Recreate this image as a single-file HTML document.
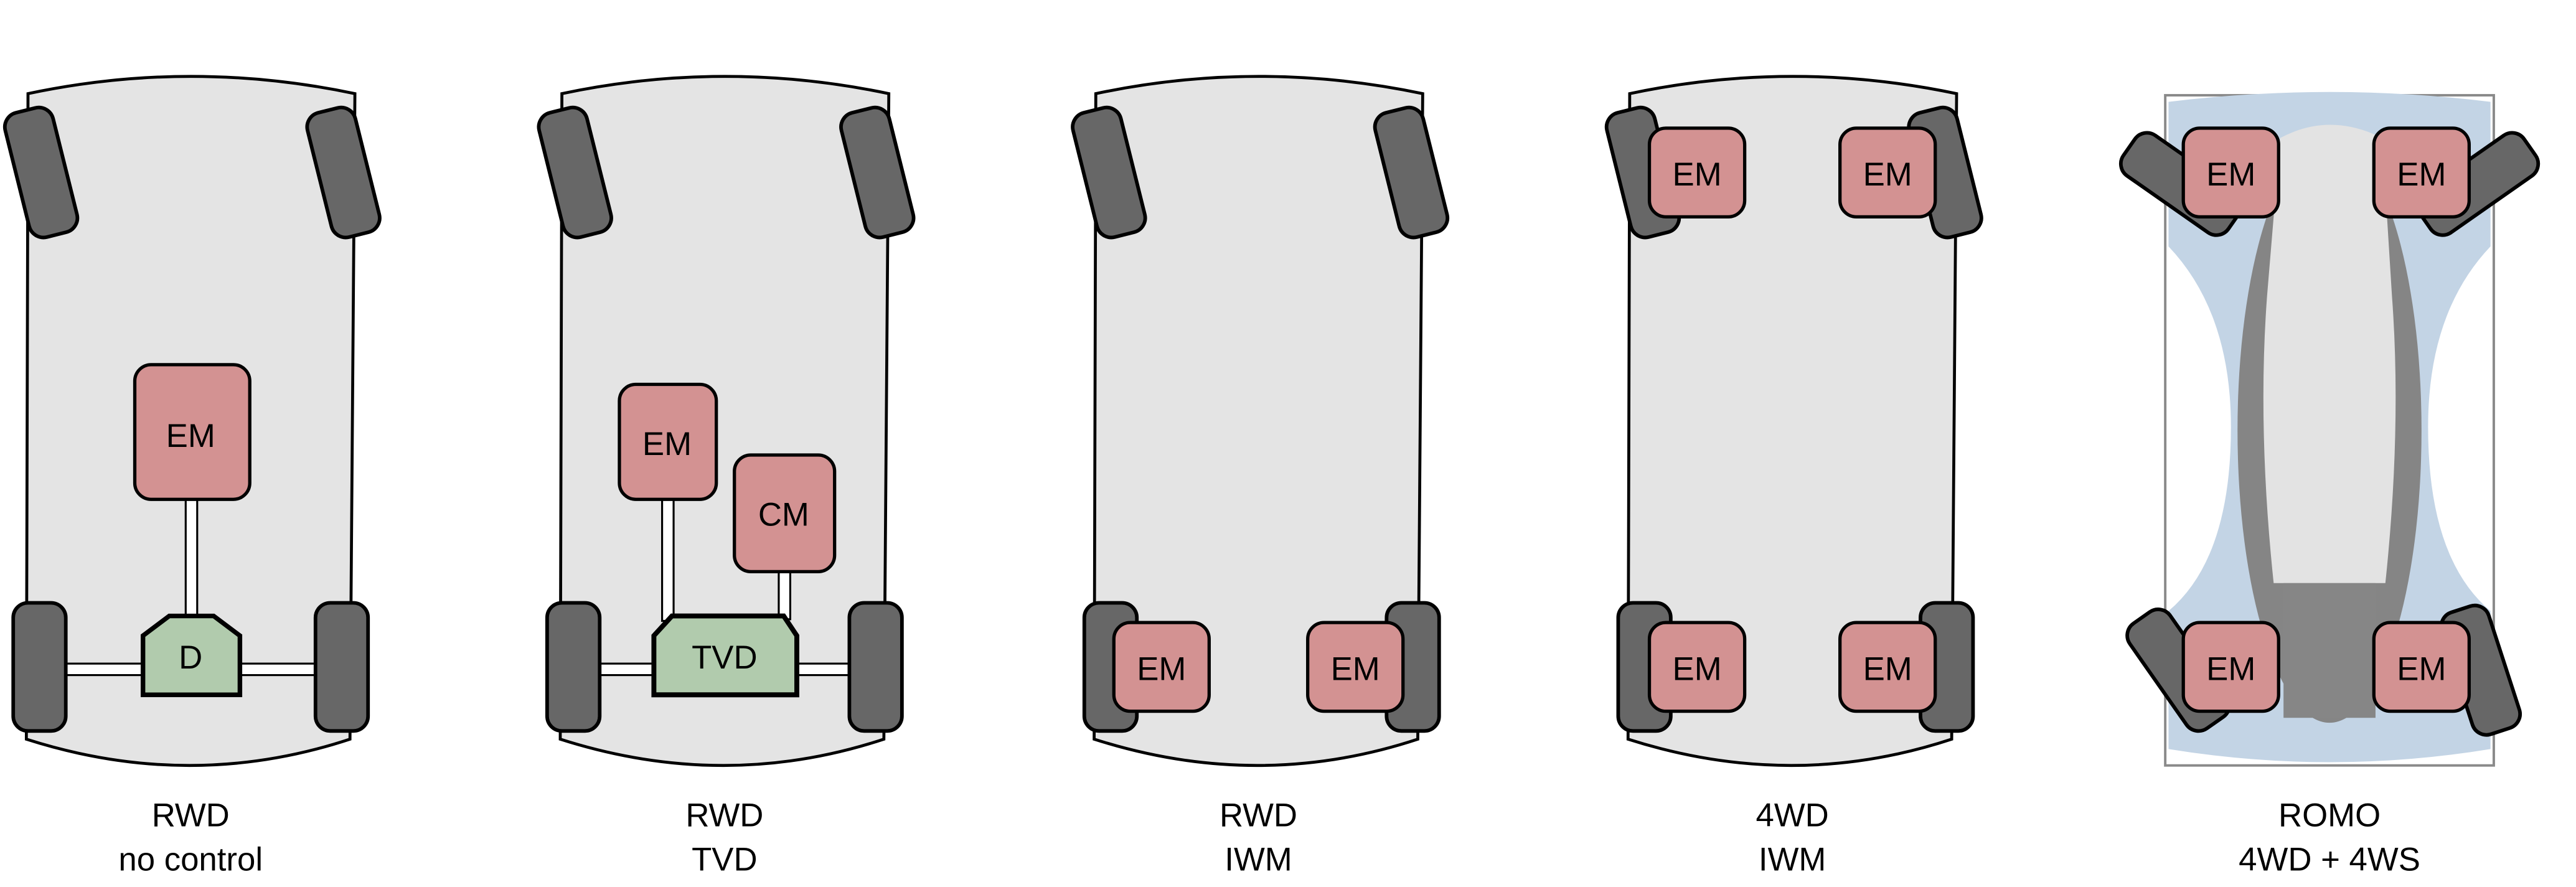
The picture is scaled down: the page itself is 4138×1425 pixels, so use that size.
<!DOCTYPE html>
<html><head><meta charset="utf-8"><style>
html,body{margin:0;padding:0;background:#fff;}
svg{display:block;}
text{font-family:"Liberation Sans",sans-serif;}
</style></head><body>
<svg width="4138" height="1425" viewBox="0 0 1568 540" xmlns="http://www.w3.org/2000/svg">
<defs>
<g id="body">
<path d="M17,57 Q116,36 216,57 L213,450 Q116,482 16,450 Z" fill="#e4e4e4" stroke="#000" stroke-width="1.8"/>
</g>
<g id="fw">
<rect x="-15" y="-39" width="30" height="78" rx="9" fill="#676767" stroke="#000" stroke-width="2.2"/>
</g>
<g id="rw">
<rect x="-16" y="-39" width="32" height="78" rx="9" fill="#676767" stroke="#000" stroke-width="2.2"/>
</g>
<g id="em">
<rect x="-29" y="-27" width="58" height="54" rx="10" fill="#d39292" stroke="#000" stroke-width="2"/>
<text x="0" y="8" font-size="20" text-anchor="middle">EM</text>
</g>
</defs>

<!-- Car 1 -->
<use href="#body"/>
<use href="#fw" transform="translate(25,105) rotate(-14)"/>
<use href="#fw" transform="translate(209,105) rotate(-14)"/>
<rect x="38" y="404" width="156" height="7" fill="#fff" stroke="#000" stroke-width="1.2"/>
<use href="#rw" transform="translate(24,406)"/>
<use href="#rw" transform="translate(208,406)"/>
<rect x="113" y="303" width="7" height="74" fill="#fff" stroke="#000" stroke-width="1.2"/>
<rect x="82" y="222" width="70" height="82" rx="10" fill="#d39292" stroke="#000" stroke-width="2"/>
<text x="116" y="272" font-size="20" text-anchor="middle">EM</text>
<path d="M87,387 L103,375 L130,375 L146,387 L146,423 L87,423 Z" fill="#b1cbad" stroke="#000" stroke-width="2.8"/>
<text x="116" y="407" font-size="20" text-anchor="middle">D</text>
<text x="116" y="503" font-size="20" text-anchor="middle">RWD</text>
<text x="116" y="530" font-size="20" text-anchor="middle">no control</text>

<!-- Car 2 -->
<g transform="translate(325,0)">
<use href="#body"/>
<use href="#fw" transform="translate(25,105) rotate(-14)"/>
<use href="#fw" transform="translate(209,105) rotate(-14)"/>
<rect x="38" y="404" width="156" height="7" fill="#fff" stroke="#000" stroke-width="1.2"/>
<use href="#rw" transform="translate(24,406)"/>
<use href="#rw" transform="translate(208,406)"/>
<rect x="78" y="303" width="7" height="75" fill="#fff" stroke="#000" stroke-width="1.2"/>
<rect x="149" y="347" width="7" height="30" fill="#fff" stroke="#000" stroke-width="1.2"/>
<rect x="52" y="234" width="59" height="70" rx="10" fill="#d39292" stroke="#000" stroke-width="2"/>
<text x="81" y="277" font-size="20" text-anchor="middle">EM</text>
<rect x="122" y="277" width="61" height="71" rx="10" fill="#d39292" stroke="#000" stroke-width="2"/>
<text x="152" y="320" font-size="20" text-anchor="middle">CM</text>
<path d="M73,387 L84,375 L152,375 L160,387 L160,423 L73,423 Z" fill="#b1cbad" stroke="#000" stroke-width="3"/>
<text x="116" y="407" font-size="20" text-anchor="middle">TVD</text>
<text x="116" y="503" font-size="20" text-anchor="middle">RWD</text>
<text x="116" y="530" font-size="20" text-anchor="middle">TVD</text>
</g>

<!-- Car 3 -->
<g transform="translate(650,0)">
<use href="#body"/>
<use href="#fw" transform="translate(25,105) rotate(-14)"/>
<use href="#fw" transform="translate(209,105) rotate(-14)"/>
<use href="#rw" transform="translate(26,406)"/>
<use href="#rw" transform="translate(210,406)"/>
<use href="#em" transform="translate(57,406)"/>
<use href="#em" transform="translate(175,406)"/>
<text x="116" y="503" font-size="20" text-anchor="middle">RWD</text>
<text x="116" y="530" font-size="20" text-anchor="middle">IWM</text>
</g>

<!-- Car 4 -->
<g transform="translate(975,0)">
<use href="#body"/>
<use href="#fw" transform="translate(25,105) rotate(-14)"/>
<use href="#fw" transform="translate(209,105) rotate(-14)"/>
<use href="#rw" transform="translate(26,406)"/>
<use href="#rw" transform="translate(210,406)"/>
<use href="#em" transform="translate(58,105)"/>
<use href="#em" transform="translate(174,105)"/>
<use href="#em" transform="translate(58,406)"/>
<use href="#em" transform="translate(174,406)"/>
<text x="116" y="503" font-size="20" text-anchor="middle">4WD</text>
<text x="116" y="530" font-size="20" text-anchor="middle">IWM</text>
</g>

<!-- Car 5 ROMO -->
<g>
<rect x="1318" y="58" width="200" height="408" fill="#fff" stroke="#8a8a8a" stroke-width="1.5"/>
<path d="M1320,62 Q1418,50 1516,62 L1516,150 Q1478,190 1478,260 Q1478,340 1516,372 L1516,456 Q1418,472 1320,456 L1320,372 Q1358,340 1358,260 Q1358,190 1320,150 Z" fill="#c3d4e5"/>
<ellipse cx="1418" cy="262" rx="56" ry="178" fill="#858585"/>
<path d="M1388,84 Q1418,68 1450,84 L1456,180 Q1462,260 1452,355 L1384,355 Q1374,260 1380,180 Z" fill="#e3e3e3"/>
<rect x="1390" y="355" width="56" height="82" fill="#868686"/>
<use href="#fw" transform="translate(1328,112) rotate(-55)"/>
<use href="#fw" transform="translate(1508,112) rotate(55)"/>
<use href="#fw" transform="translate(1326,408) rotate(-35)"/>
<use href="#fw" transform="translate(1510,408) rotate(-18)"/>
<use href="#em" transform="translate(1358,105)"/>
<use href="#em" transform="translate(1474,105)"/>
<use href="#em" transform="translate(1358,406)"/>
<use href="#em" transform="translate(1474,406)"/>
<text x="1418" y="503" font-size="20" text-anchor="middle">ROMO</text>
<text x="1418" y="530" font-size="20" text-anchor="middle">4WD + 4WS</text>
</g>
</svg>
</body></html>
